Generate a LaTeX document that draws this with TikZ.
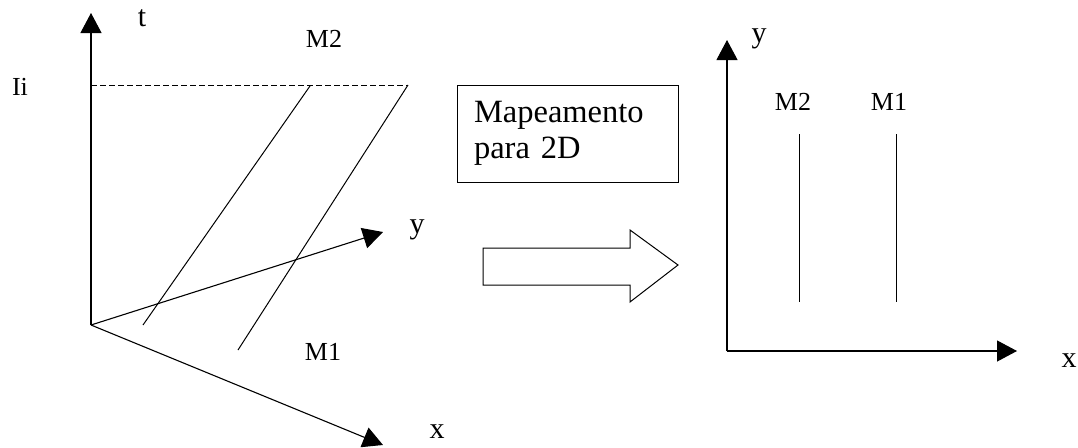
\documentclass[tikz,border=0pt]{standalone}
\usepackage{fontspec}
\setmainfont{Liberation Serif}
\usetikzlibrary{arrows.meta}
\begin{document}
\begin{tikzpicture}[x=1pt,y=-1pt,
  axis/.style={line width=1.1pt,-{Triangle[length=20pt,width=21pt]}},
  thin line/.style={line width=1pt},
  lbl/.style={inner sep=0pt,anchor=base,font=\fontsize{26}{30}\selectfont},
  axlbl/.style={inner sep=0pt,anchor=base,font=\fontsize{30}{34}\selectfont},
  mapbox/.style={draw,line width=1pt,minimum width=221pt,minimum height=97pt,
    text width=187pt,align=left,inner xsep=17pt,
    font=\fontsize{32.5}{36}\selectfont}]
\useasboundingbox (0,0) rectangle (1078,447);
% left 3D diagram
\coordinate (O) at (91,325);
\coordinate (tTip) at (91,13);
\coordinate (yTip) at (383,232);
\coordinate (xTip) at (383,445);
\coordinate (dA) at (91,85);
\coordinate (dB) at (408,85);
\coordinate (m2a) at (143,325);
\coordinate (m2b) at (310,86);
\coordinate (m1a) at (238,350);
\coordinate (m1b) at (408,85);
\draw[axis] (O) -- (tTip);
\draw[axis] (O) -- (yTip);
\draw[axis] (O) -- (xTip);
\draw[thin line,dash pattern=on 6pt off 3pt] (dA) -- (dB);
\draw[thin line] (m2a) -- (m2b);
\draw[thin line] (m1a) -- (m1b);
\node[axlbl] (tl) at (142,27) {t};
\node[lbl] (m2l) at (324,47) {M2};
\node[lbl] (iil) at (20,95) {Ii};
\node[axlbl] (yl) at (417,233) {y};
\node[lbl] (m1l) at (323,360) {M1};
\node[axlbl] (xl) at (437,438) {x};
% middle
\node[mapbox] (map) at (567.5,133.5) {Mapeamento\\para 2D};
\draw[line width=1pt] (483,248) -- (630,248) -- (630,230) -- (678,265)
  -- (630,302) -- (630,285) -- (483,285) -- cycle;
% right 2D diagram
\coordinate (O2) at (727,351);
\coordinate (yTip2) at (727,40);
\coordinate (xTip2) at (1017,351);
\coordinate (r2a) at (799,134);
\coordinate (r2b) at (799,302);
\coordinate (r1a) at (896,134);
\coordinate (r1b) at (896,302);
\draw[axis] (O2) -- (yTip2);
\draw[axis] (O2) -- (xTip2);
\draw[thin line] (r2a) -- (r2b);
\draw[thin line] (r1a) -- (r1b);
\node[axlbl] (yl2) at (759,42) {y};
\node[lbl] (rm2) at (793,110) {M2};
\node[lbl] (rm1) at (889,110) {M1};
\node[axlbl] (xl2) at (1069,367) {x};
\end{tikzpicture}
\end{document}
